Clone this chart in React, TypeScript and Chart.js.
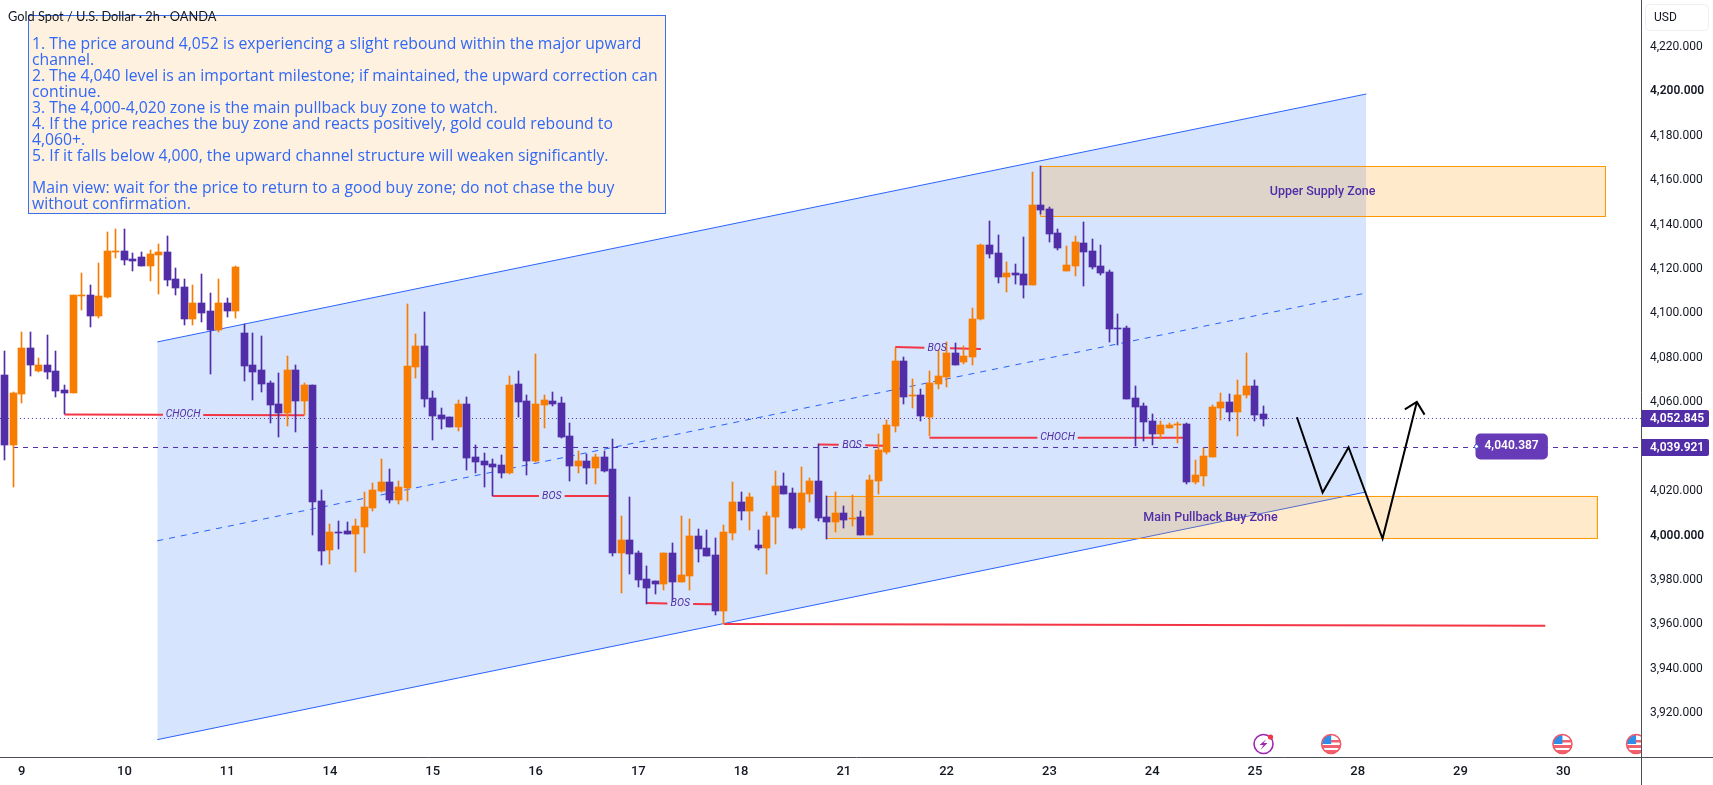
import React, { useEffect, useRef } from "react";
import { Chart, registerables } from "chart.js";

Chart.register(...registerables);

const opens = [
  4071.75, 4040.25, 4063.2, 4083.9, 4073.55, 4076.25, 4073.55, 4065, 4063.65, 4107.3, 4107.75, 4098.3,
  4106.85, 4127.1, 4127.55, 4123.95, 4124.85, 4120.8, 4125.75, 4127.1, 4114.95, 4111.35, 4096.95, 4104.15,
  4100.55, 4092, 4104.15, 4100.55, 4090.65, 4076.25, 4074, 4068.15, 4058.7, 4054.65, 4074, 4060.05,
  4067.25, 4015.05, 3993, 4001.1, 4001.55, 4000.2, 4003.35, 4011.9, 4019.55, 4023.6, 4015.5, 4020.9,
  4075.35, 4084.8, 4061.4, 4053.75, 4052.85, 4048.35, 4058.7, 4034.85, 4033.05, 4031.7, 4031.25, 4027.65,
  4067.7, 4060.05, 4033.05, 4058.25, 4060.05, 4059.15, 4044.3, 4030.8, 4033.05, 4029.9, 4034.85, 4029.45,
  3991.65, 3997.5, 3991.65, 3979.95, 3979.05, 3977.7, 3991.65, 3978.6, 3981.3, 3999.3, 3993.9, 3990.75,
  3965.55, 4000.65, 4014.6, 4010.55, 3995.25, 3993.9, 4007.85, 4021.8, 4018.65, 4002.9, 4018.2, 4024.05,
  4007.85, 4005.6, 4009.65, 4006.95, 4007.85, 3999.75, 4024.05, 4037.1, 4048.8, 4078.05, 4062.3, 4062.75,
  4052.85, 4067.7, 4070.85, 4081.65, 4077.6, 4079.85, 4096.95, 4130.25, 4126.65, 4115.85, 4117.65, 4117.2,
  4112.25, 4148.25, 4146.45, 4135.65, 4118.55, 4120.8, 4131.15, 4127.55, 4120.8, 4118.1, 4092.9, 4092.9,
  4061.4, 4057.8, 4051.05, 4045.2, 4047.9, 4049.25, 4049.7, 4023.6, 4026.3, 4034.85, 4056.9, 4059.6,
  4055.1, 4062.75, 4066.8, 4054.2,
];
const closes = [
  4040.25, 4063.65, 4083.9, 4076.25, 4076.25, 4073.1, 4064.55, 4063.65, 4107.75, 4107.75, 4098.3, 4107.3,
  4127.55, 4127.55, 4123.5, 4123.05, 4120.8, 4126.2, 4127.1, 4114.5, 4110.9, 4096.95, 4104.15, 4099.65,
  4092, 4104.15, 4100.55, 4120.35, 4075.8, 4073.1, 4067.7, 4058.25, 4054.65, 4074, 4060.05, 4067.25,
  4014.6, 3992.55, 4001.1, 4000.65, 4000.2, 4003.8, 4012.35, 4020, 4023.6, 4015.5, 4021.35, 4075.8,
  4084.8, 4060.95, 4053.3, 4051.95, 4048.35, 4058.7, 4034.4, 4032.6, 4031.25, 4030.35, 4027.65, 4067.25,
  4059.6, 4033.05, 4058.7, 4060.5, 4058.7, 4043.85, 4030.8, 4033.05, 4029.9, 4034.85, 4028.55, 3991.65,
  3997.5, 3991.2, 3979.5, 3975.9, 3977.7, 3991.65, 3978.6, 3981.75, 3999.3, 3993.45, 3990.3, 3965.55,
  4001.1, 4014.6, 4010.55, 4016.85, 3993.9, 4008.3, 4021.8, 4018.2, 4002.9, 4018.65, 4024.05, 4007.4,
  4005.6, 4009.65, 4006.5, 4007.4, 3999.75, 4024.5, 4038, 4049.25, 4078.05, 4061.85, 4062.75, 4053.3,
  4068.15, 4071.3, 4081.65, 4076.25, 4080.3, 4096.95, 4130.25, 4126.2, 4115.85, 4117.65, 4116.75, 4112.25,
  4148.25, 4146, 4135.2, 4128.9, 4121.25, 4131.6, 4127.1, 4120.35, 4117.65, 4092.45, 4092.45, 4060.95,
  4057.35, 4050.6, 4045.2, 4049.25, 4049.25, 4049.7, 4023.6, 4026.75, 4035.3, 4057.35, 4059.6, 4055.1,
  4062.75, 4066.8, 4053.75, 4051.95,
];
const highs = [
  4082.55, 4064.1, 4091.1, 4091.1, 4079.4, 4089.75, 4082.55, 4067.25, 4107.75, 4117.65, 4112.25, 4122.15,
  4136.1, 4137.45, 4137.45, 4126.65, 4127.1, 4128, 4130.7, 4134.3, 4119.9, 4114.95, 4112.25, 4117.2,
  4108.65, 4114.95, 4106.4, 4120.8, 4094.7, 4090.65, 4089.3, 4069.05, 4072.65, 4080.3, 4076.25, 4068.15,
  4067.25, 4020, 4004.7, 4006.05, 4005.6, 4006.95, 4019.1, 4023.15, 4033.95, 4029.45, 4024.05, 4103.7,
  4090.2, 4100.1, 4064.55, 4056.9, 4052.85, 4060.5, 4061.85, 4040.25, 4036.65, 4033.95, 4035.75, 4071.3,
  4073.55, 4062.75, 4081.2, 4062.75, 4064.1, 4061.85, 4050.15, 4037.55, 4036.2, 4036.2, 4037.55, 4042.95,
  4008.3, 4016.85, 3992.55, 3985.8, 3979.05, 3991.65, 3996.15, 4008.3, 4006.95, 4002.45, 4002, 3998.4,
  4004.25, 4023.6, 4019.1, 4018.65, 4002, 4010.1, 4028.55, 4027.65, 4020.9, 4030.35, 4025.4, 4040.7,
  4017.3, 4019.1, 4012.8, 4017.75, 4010.55, 4026.75, 4045.2, 4051.5, 4083.9, 4079.85, 4069.95, 4065.45,
  4073.55, 4083, 4086.6, 4086.15, 4084.8, 4101.9, 4130.7, 4141.05, 4134.75, 4122.6, 4121.7, 4133.85,
  4163.1, 4165.8, 4147.35, 4137.45, 4129.8, 4134.3, 4140.6, 4132.95, 4130.25, 4119, 4099.2, 4093.8,
  4066.8, 4059.15, 4054.2, 4051.05, 4050.15, 4050.6, 4050.15, 4033.5, 4038.9, 4058.25, 4063.65, 4063.2,
  4069.5, 4081.65, 4069.5, 4057.8,
];
const lows = [
  4033.5, 4021.5, 4059.15, 4071.3, 4073.1, 4069.95, 4061.85, 4054.2, 4063.65, 4101, 4093.35, 4097.4,
  4106.4, 4124.4, 4121.25, 4118.55, 4120.8, 4114.05, 4108.2, 4111.8, 4107.75, 4094.25, 4094.25, 4095.6,
  4072.2, 4091.1, 4097.85, 4097.4, 4069.05, 4060.5, 4064.1, 4050.15, 4043.85, 4048.8, 4046.1, 4053.75,
  3999.75, 3986.25, 3986.7, 3993.45, 4000.2, 3983.1, 3991.65, 4010.55, 4019.1, 4014.15, 4013.7, 4015.05,
  4070.4, 4057.35, 4042.5, 4047.45, 4048.35, 4046.55, 4029, 4027.65, 4021.35, 4017.3, 4025.4, 4027.2,
  4052.85, 4026.75, 4032.6, 4047.9, 4057.8, 4043.4, 4024.05, 4027.65, 4022.7, 4022.7, 4028.1, 3990.3,
  3973.65, 3982.2, 3976.35, 3968.7, 3973.2, 3975, 3970.5, 3978.6, 3975, 3987.6, 3990.3, 3963.75,
  3959.7, 3997.5, 4006.5, 4002, 3993, 3982.2, 3995.7, 4018.2, 4002.45, 4002, 4014.6, 4006.05,
  3997.95, 4001.1, 4002.9, 4003.8, 3999.75, 3999.75, 4018.2, 4036.2, 4046.1, 4058.7, 4056.9, 4051.05,
  4044.3, 4065.45, 4066.35, 4076.25, 4076.7, 4076.25, 4096.5, 4124.4, 4113.15, 4109.1, 4112.7, 4106.4,
  4112.25, 4144.2, 4131.6, 4128, 4118.55, 4116.3, 4111.8, 4119.45, 4116.75, 4086.6, 4085.25, 4060.95,
  4039.8, 4042.05, 4040.25, 4042.95, 4047.9, 4041.15, 4022.7, 4022.7, 4021.8, 4034.85, 4051.5, 4051.05,
  4044.3, 4061.4, 4051.05, 4048.8,
];

const dayLabels = ["9", "10", "11", "14", "15", "16", "17", "18", "21", "22", "23", "24", "25", "28", "29", "30"];
const dayTickBars = [2, 14, 26, 38, 50, 62, 74, 86, 98, 110, 122, 134, 146, 158, 170, 182];
const priceTicks = [3920, 3940, 3960, 3980, 4000, 4020, 4040, 4060, 4080, 4100, 4120, 4140, 4160, 4180, 4200, 4220];
const strongTicks = [4000, 4200];

const channelUpper = [{ x: 17.84, y: 4086.7 }, { x: 159, y: 4198.3 }];
const channelMid = [{ x: 17.84, y: 3997.2 }, { x: 159, y: 4108.75 }];
const channelLower = [{ x: 17.84, y: 3907.7 }, { x: 159, y: 4019.2 }];

const supplyZone = { left: 120.96, right: 186.93, top: 4165.67, bottom: 4143.16, label: "Upper Supply Zone", labelX: 153.9 };
const buyZone = { left: 95.97, right: 185.99, top: 4017.15, bottom: 3998.24, label: "Main Pullback Buy Zone", labelX: 140.8 };

const structureLines = [
  { label: "CHOCH", from: 7, to: 35, y1: 4054.1, y2: 4053.7, gapFrom: 18.5, gapTo: 23.2 },
  { label: "BOS", from: 57, to: 71, y1: 4017.4, y2: 4017.4, gapFrom: 62.4, gapTo: 65.4 },
  { label: "BOS", from: 75, to: 83, y1: 3969.2, y2: 3968.6, gapFrom: 77.4, gapTo: 80.4 },
  { label: "BOS", from: 95, to: 102.6, y1: 4040.6, y2: 4040, gapFrom: 97.4, gapTo: 100.5 },
  { label: "BOS", from: 104, to: 114, y1: 4084.4, y2: 4083.5, gapFrom: 107.4, gapTo: 110.4 },
  { label: "CHOCH", from: 108, to: 137.8, y1: 4043.6, y2: 4043.6, gapFrom: 120.6, gapTo: 125.3 },
];
const supportLine = [{ x: 84, y: 3959.8 }, { x: 179.9, y: 3959 }];

const forecastPath = [
  { x: 150.9, y: 4052.8 },
  { x: 153.9, y: 4018.9 },
  { x: 156.93, y: 4039.3 },
  { x: 160.9, y: 3998.2 },
  { x: 164.9, y: 4059.7 },
];
const forecastArrow = [{ x: 163.5, y: 4056.4 }, { x: 164.9, y: 4059.7 }, { x: 165.8, y: 4054 }];

const lastPriceLevel = 4052.248;
const lastPriceText = "4,052.845";
const prevLevel = 4039.196;
const prevLevelText = "4,039.921";
const tagText = "4,040.387";
const tagBars = [171.75, 180.2];

const flagEventBars = [154.9, 181.9, 190.5];
const boltEventBar = 147;

const titleText = "Gold Spot / U.S. Dollar · 2h · OANDA";
const currencyText = "USD";
const noteLines = [
  "1. The price around 4,052 is experiencing a slight rebound within the major upward",
  "channel.",
  "2. The 4,040 level is an important milestone; if maintained, the upward correction can",
  "continue.",
  "3. The 4,000-4,020 zone is the main pullback buy zone to watch.",
  "4. If the price reaches the buy zone and reacts positively, gold could rebound to",
  "4,060+.",
  "5. If it falls below 4,000, the upward channel structure will weaken significantly.",
  "",
  "Main view: wait for the price to return to a good buy zone; do not chase the buy",
  "without confirmation.",
];

const UP = "#f77c00";
const DOWN = "#512da8";
const RED = "#f23645";
const BLUE = "#2962ff";
const FONT = "'Open Sans', Roboto, sans-serif";

const barIndexes = opens.map((_, i) => i);
const candleColors = opens.map((o, i) => (closes[i] >= o ? UP : DOWN));

function zoneDatasets(z: typeof supplyZone) {
  const outline = [
    { x: z.left, y: z.top },
    { x: z.right, y: z.top },
    { x: z.right, y: z.bottom },
    { x: z.left, y: z.bottom },
    { x: z.left, y: z.top },
  ];
  return [
    {
      type: "line",
      data: [{ x: z.left, y: z.top }, { x: z.right, y: z.top }],
      borderWidth: 0,
      pointRadius: 0,
      fill: { value: z.bottom },
      backgroundColor: "rgba(255,152,0,0.2)",
      order: 40,
    },
    { type: "line", data: outline, borderColor: "#ff9800", borderWidth: 1, pointRadius: 0, fill: false, order: 39 },
  ];
}

function structureDataset(s: (typeof structureLines)[number]) {
  const at = (x: number) => s.y1 + ((s.y2 - s.y1) * (x - s.from)) / (s.to - s.from);
  return {
    type: "line",
    data: [
      { x: s.from, y: s.y1 },
      { x: s.gapFrom, y: at(s.gapFrom) },
      { x: (s.gapFrom + s.gapTo) / 2, y: null },
      { x: s.gapTo, y: at(s.gapTo) },
      { x: s.to, y: s.y2 },
    ],
    borderColor: RED,
    borderWidth: 2,
    pointRadius: 0,
    fill: false,
    spanGaps: false,
    order: 30,
  };
}

const crispBars = {
  id: "crispBars",
  beforeDatasetsDraw(chart: any) {
    chart.data.datasets.forEach((ds: any, di: number) => {
      if (ds.type !== "bar") return;
      chart.getDatasetMeta(di).data.forEach((el: any) => {
        const col = Math.floor(el.x);
        el.x = col + 0.5;
        el.width = ds.maxBarThickness;
        const top = Math.round(Math.min(el.y, el.base));
        const bottom = Math.max(Math.round(Math.max(el.y, el.base)), top + 1);
        el.y = top;
        el.base = bottom;
      });
    });
  },
};

function roundRect(ctx: CanvasRenderingContext2D, x: number, y: number, w: number, h: number, r: any) {
  ctx.beginPath();
  ctx.roundRect(x, y, w, h, r);
}

function drawFlag(ctx: CanvasRenderingContext2D, cx: number, cy: number) {
  ctx.save();
  ctx.beginPath();
  ctx.arc(cx, cy, 9.5, 0, Math.PI * 2);
  ctx.fillStyle = "#fff";
  ctx.fill();
  ctx.save();
  ctx.clip();
  ctx.fillStyle = "#f0626e";
  ctx.fillRect(cx - 10, cy + 1, 20, 3);
  ctx.fillRect(cx - 10, cy + 6, 20, 5);
  ctx.fillRect(cx - 1, cy - 4, 11, 2.5);
  ctx.fillStyle = "#2f8fe8";
  ctx.fillRect(cx - 10, cy - 9, 10, 9);
  ctx.restore();
  ctx.beginPath();
  ctx.arc(cx, cy, 9.5, 0, Math.PI * 2);
  ctx.strokeStyle = "#ef5a66";
  ctx.lineWidth = 1.6;
  ctx.stroke();
  ctx.restore();
}

function drawBolt(ctx: CanvasRenderingContext2D, cx: number, cy: number) {
  ctx.save();
  ctx.beginPath();
  ctx.arc(cx, cy, 9.5, 0, Math.PI * 2);
  ctx.strokeStyle = "#9c27b0";
  ctx.lineWidth = 1.6;
  ctx.stroke();
  ctx.beginPath();
  ctx.moveTo(cx + 3, cy - 5);
  ctx.lineTo(cx - 4, cy + 1);
  ctx.lineTo(cx, cy + 1);
  ctx.lineTo(cx - 3, cy + 6);
  ctx.lineTo(cx + 4, cy - 1);
  ctx.lineTo(cx, cy - 1);
  ctx.closePath();
  ctx.fillStyle = "#9c27b0";
  ctx.fill();
  ctx.beginPath();
  ctx.arc(cx + 7, cy - 7, 2.6, 0, Math.PI * 2);
  ctx.fillStyle = RED;
  ctx.fill();
  ctx.restore();
}

const overlays = {
  id: "overlays",
  afterDraw(chart: any) {
    const { ctx, chartArea, scales } = chart;
    const xs = scales.x;
    const ys = scales.y;
    ctx.save();

    // frame of the axes
    ctx.strokeStyle = "#4a4e59";
    ctx.lineWidth = 1;
    ctx.beginPath();
    ctx.moveTo(1641.5, 0);
    ctx.lineTo(1641.5, chart.height);
    ctx.moveTo(0, 757.5);
    ctx.lineTo(chart.width, 757.5);
    ctx.stroke();

    // zone names and structure names
    ctx.textAlign = "center";
    ctx.textBaseline = "middle";
    ctx.fillStyle = DOWN;
    ctx.font = "500 12.5px Roboto, sans-serif";
    [supplyZone, buyZone].forEach((z) => {
      ctx.fillText(z.label, xs.getPixelForValue(z.labelX), ys.getPixelForValue((z.top + z.bottom) / 2));
    });
    ctx.font = "italic 10.5px Roboto, sans-serif";
    structureLines.forEach((s) => {
      const mid = (s.gapFrom + s.gapTo) / 2;
      ctx.fillText(s.label, xs.getPixelForValue(mid), ys.getPixelForValue((s.y1 + s.y2) / 2));
    });

    // note box
    ctx.fillStyle = "#fff1e0";
    ctx.fillRect(28.5, 15.5, 637, 198);
    ctx.strokeStyle = "#3d6fe8";
    ctx.lineWidth = 1;
    ctx.strokeRect(28.5, 15.5, 637, 198);
    ctx.textAlign = "left";
    ctx.fillStyle = "#3068f5";
    ctx.font = `15.75px ${FONT}`;
    noteLines.forEach((line, i) => ctx.fillText(line, 32, 45 + i * 16));

    // title
    ctx.fillStyle = "#131722";
    ctx.font = "12.8px Lato, sans-serif";
    ctx.fillText(titleText, 8, 17);

    // currency button
    ctx.strokeStyle = "#eceef2";
    roundRect(ctx, 1645.5, 4.5, 63, 26, 4);
    ctx.stroke();
    ctx.fillStyle = "#131722";
    ctx.font = "12px Roboto, sans-serif";
    ctx.fillText(currencyText, 1654, 18);

    // price tags on the axis
    [
      { level: lastPriceLevel, text: lastPriceText },
      { level: prevLevel, text: prevLevelText },
    ].forEach(({ level, text }) => {
      const y = ys.getPixelForValue(level);
      ctx.fillStyle = DOWN;
      roundRect(ctx, chartArea.right, y - 8.5, 67, 17, [0, 2, 2, 0]);
      ctx.fill();
      ctx.fillStyle = "#fff";
      ctx.font = "600 12px Roboto, sans-serif";
      ctx.fillText(text, chartArea.right + 8, y + 0.5);
    });

    // floating tag
    const tagLeft = xs.getPixelForValue(tagBars[0]);
    const tagRight = xs.getPixelForValue(tagBars[1]);
    const tagY = ys.getPixelForValue(prevLevel);
    ctx.fillStyle = "#673ab7";
    roundRect(ctx, tagLeft, tagY - 14, tagRight - tagLeft, 26, 5);
    ctx.fill();
    ctx.fillStyle = "#fff";
    ctx.font = "600 12px Roboto, sans-serif";
    ctx.fillText(tagText, tagLeft + 9, tagY - 1);
    ctx.beginPath();
    ctx.arc(tagLeft + 1, tagY - 1, 2, 0, Math.PI * 2);
    ctx.fillStyle = "#fff";
    ctx.fill();
    ctx.strokeStyle = "#3f51d8";
    ctx.stroke();

    // event badges
    ctx.save();
    ctx.beginPath();
    ctx.rect(0, chartArea.top, 1641, 757);
    ctx.clip();
    const badgeY = 744;
    drawBolt(ctx, xs.getPixelForValue(boltEventBar), badgeY);
    flagEventBars.forEach((b) => drawFlag(ctx, xs.getPixelForValue(b), badgeY));
    ctx.restore();

    ctx.restore();
  },
};

export default function App() {
  const ref = useRef<HTMLCanvasElement | null>(null);

  useEffect(() => {
    const chart = new Chart(ref.current as HTMLCanvasElement, {
      type: "bar",
      data: {
        datasets: [
          {
            type: "line",
            data: channelUpper,
            borderColor: BLUE,
            borderWidth: 1,
            pointRadius: 0,
            backgroundColor: "rgb(214,228,253)",
            fill: { target: 2 },
            order: 50,
          },
          { type: "line", data: channelMid, borderColor: BLUE, borderWidth: 1, borderDash: [6, 6], pointRadius: 0, fill: false, order: 49 },
          { type: "line", data: channelLower, borderColor: BLUE, borderWidth: 1, pointRadius: 0, fill: false, order: 49 },
          ...zoneDatasets(supplyZone),
          ...zoneDatasets(buyZone),
          {
            type: "line",
            data: [{ x: -1, y: lastPriceLevel }, { x: 192, y: lastPriceLevel }],
            borderColor: DOWN,
            borderWidth: 1,
            borderDash: [1, 3],
            pointRadius: 0,
            fill: false,
            order: 35,
          },
          {
            type: "line",
            data: [{ x: 1, y: prevLevel }, { x: 192, y: prevLevel }],
            borderColor: DOWN,
            borderWidth: 1,
            borderDash: [5, 5],
            pointRadius: 0,
            fill: false,
            order: 35,
          },
          ...structureLines.map(structureDataset),
          { type: "line", data: supportLine, borderColor: RED, borderWidth: 2, pointRadius: 0, fill: false, order: 30 },
          {
            type: "bar",
            data: barIndexes.map((i) => ({ x: i, y: [lows[i], highs[i]] })),
            backgroundColor: candleColors,
            grouped: false,
            barPercentage: 1,
            categoryPercentage: 1,
            maxBarThickness: 1,
            order: 20,
          },
          {
            type: "bar",
            data: barIndexes.map((i) => ({ x: i, y: [opens[i], closes[i]] })),
            backgroundColor: candleColors,
            grouped: false,
            barPercentage: 1,
            categoryPercentage: 1,
            maxBarThickness: 7,
            order: 10,
          },
          { type: "line", data: forecastPath, borderColor: "#000", borderWidth: 2, pointRadius: 0, fill: false, order: 5 },
          { type: "line", data: forecastArrow, borderColor: "#000", borderWidth: 2, pointRadius: 0, fill: false, order: 5 },
        ] as any,
      },
      options: {
        responsive: false,
        animation: false,
        devicePixelRatio: 1,
        events: [],
        layout: { padding: 0 },
        plugins: { legend: { display: false }, tooltip: { enabled: false } },
        scales: {
          x: {
            type: "linear",
            offset: false,
            min: -0.525,
            max: 191.19,
            grid: { display: false, drawTicks: false, tickLength: 0 },
            border: { display: false },
            afterBuildTicks(scale: any) {
              scale.ticks = dayTickBars.map((value) => ({ value }));
            },
            afterFit(scale: any) {
              scale.height = 28;
              scale.paddingLeft = 0;
              scale.paddingRight = 0;
            },
            ticks: {
              autoSkip: false,
              maxRotation: 0,
              padding: 7,
              color: "#131722",
              font: { family: "Roboto, sans-serif", size: 13, weight: "500" },
              callback: (value: any) => dayLabels[dayTickBars.indexOf(value)],
            },
          },
          y: {
            type: "linear",
            position: "right",
            min: 3899.9,
            max: 4240.6,
            grid: { display: false, drawTicks: false, tickLength: 0 },
            border: { display: false },
            afterBuildTicks(scale: any) {
              scale.ticks = priceTicks.map((value) => ({ value }));
            },
            afterFit(scale: any) {
              scale.width = 71;
              scale.paddingTop = 0;
              scale.paddingBottom = 0;
            },
            ticks: {
              autoSkip: false,
              padding: 8,
              labelOffset: 1,
              color: "#131722",
              font: (c: any) => ({
                family: "Roboto, sans-serif",
                size: 12,
                weight: strongTicks.includes(c.tick?.value) ? "600" : "400",
              }),
              callback: (value: any) =>
                Number(value).toLocaleString("en-US", { minimumFractionDigits: 3, maximumFractionDigits: 3 }),
            },
          },
        },
      } as any,
      plugins: [crispBars, overlays],
    } as any);
    return () => chart.destroy();
  }, []);

  return (
    <canvas
      ref={ref}
      width={1713}
      height={785}
      style={{ position: "fixed", left: 0, top: 0, width: 1713, height: 785, display: "block", background: "#fff" }}
    />
  );
}
